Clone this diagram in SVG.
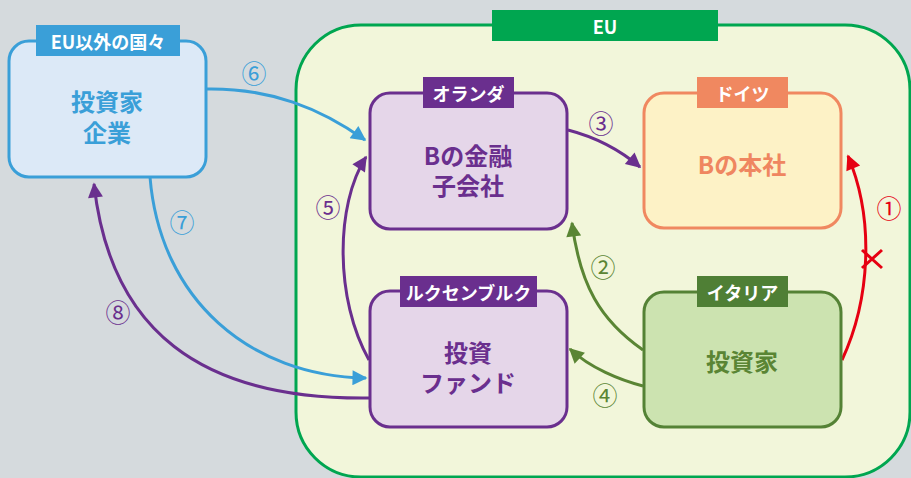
<svg xmlns="http://www.w3.org/2000/svg" width="911" height="478" viewBox="0 0 911 478">
<style>
text{font-family:"Noto Sans CJK JP","Noto Sans",sans-serif;font-weight:bold;text-anchor:middle;dominant-baseline:central}
.lbl{fill:#fff;font-size:18px}
.main{font-size:24px}
.num{font-size:25px;font-weight:normal}
.c{fill:none;stroke-width:3}
</style>
<defs>
<marker id="aB" viewBox="0 0 10 10" refX="9" refY="5" markerWidth="6" markerHeight="5" markerUnits="strokeWidth" orient="auto"><path d="M0,0L10,5L0,10z" fill="#3a9fd8"/></marker>
<marker id="aP" viewBox="0 0 10 10" refX="9" refY="5" markerWidth="6" markerHeight="5" markerUnits="strokeWidth" orient="auto"><path d="M0,0L10,5L0,10z" fill="#6a2f8e"/></marker>
<marker id="aG" viewBox="0 0 10 10" refX="9" refY="5" markerWidth="6" markerHeight="5" markerUnits="strokeWidth" orient="auto"><path d="M0,0L10,5L0,10z" fill="#5a8534"/></marker>
<marker id="aR" viewBox="0 0 10 10" refX="9" refY="5" markerWidth="6" markerHeight="5" markerUnits="strokeWidth" orient="auto"><path d="M0,0L10,5L0,10z" fill="#e60012"/></marker>
</defs>
<rect width="911" height="478" fill="#d5dadd"/>
<g id="eu">
<rect x="296" y="25" width="614" height="452" rx="65" fill="#f2f6da" stroke="#00a650" stroke-width="3"/>
<rect x="492" y="10" width="226" height="31" fill="#00a650"/>
<text x="605" y="25.5" class="lbl">EU</text>
</g>
<g id="connectors">
<path class="c" stroke="#3a9fd8" d="M207,89 C270,88 320,108 365,140" marker-end="url(#aB)"/>
<path class="c" stroke="#3a9fd8" d="M150,177 C160,300 250,376 366,378" marker-end="url(#aB)"/>
<path class="c" stroke="#6a2f8e" d="M369,398 C200,400 110,330 94,184" marker-end="url(#aP)"/>
<path class="c" stroke="#6a2f8e" d="M369,360 C335,300 335,205 366,157" marker-end="url(#aP)"/>
<path class="c" stroke="#6a2f8e" d="M568,130 C595,137 620,150 640,167" marker-end="url(#aP)"/>
<path class="c" stroke="#5a8534" d="M643,350 C600,320 580,285 572,223" marker-end="url(#aG)"/>
<path class="c" stroke="#5a8534" d="M643,386 C620,380 590,368 570,349" marker-end="url(#aG)"/>
<path class="c" stroke="#e60012" d="M842,360 C870,300 875,220 848,156" marker-end="url(#aR)"/>
<path d="M862,250L882,268M882,250L862,268" stroke="#e60012" stroke-width="3"/>
<text x="254" y="72" class="num" fill="#3a9fd8">⑥</text>
<text x="182" y="221" class="num" fill="#3a9fd8">⑦</text>
<text x="118" y="311" class="num" fill="#6a2f8e">⑧</text>
<text x="328" y="206" class="num" fill="#6a2f8e">⑤</text>
<text x="601" y="122" class="num" fill="#6a2f8e">③</text>
<text x="603" y="266" class="num" fill="#5a8534">②</text>
<text x="605" y="394" class="num" fill="#5a8534">④</text>
<text x="889" y="207" class="num" fill="#e60012">①</text>
</g>
<g id="nonEU">
<rect x="9" y="41" width="197" height="136" rx="20" fill="#dce9f7" stroke="#3a9fd8" stroke-width="3"/>
<rect x="36" y="25" width="144" height="31" fill="#3a9fd8"/>
<text x="108" y="40.5" class="lbl">EU以外の国々</text>
<text class="main" fill="#3a9fd8"><tspan x="107" y="100">投資家</tspan><tspan x="107" y="131">企業</tspan></text>
</g>
<g id="netherlands">
<rect x="370" y="93" width="197" height="136" rx="20" fill="#e5d6e9" stroke="#6a2f8e" stroke-width="3"/>
<rect x="423" y="77" width="91" height="31" fill="#6a2f8e"/>
<text x="468.5" y="92.5" class="lbl">オランダ</text>
<text class="main" fill="#6a2f8e"><tspan x="468" y="154">Bの金融</tspan><tspan x="468" y="184">子会社</tspan></text>
</g>
<g id="germany">
<rect x="644" y="93" width="197" height="135" rx="20" fill="#fdf2c6" stroke="#f08860" stroke-width="3"/>
<rect x="697" y="77" width="91" height="31" fill="#f08860"/>
<text x="742.5" y="92.5" class="lbl">ドイツ</text>
<text x="742" y="163" class="main" fill="#ef8660">Bの本社</text>
</g>
<g id="luxembourg">
<rect x="370" y="291" width="197" height="136" rx="20" fill="#e5d6e9" stroke="#6a2f8e" stroke-width="3"/>
<rect x="400" y="276" width="137" height="31" fill="#6a2f8e"/>
<text x="468.5" y="291.5" class="lbl">ルクセンブルク</text>
<text class="main" fill="#6a2f8e"><tspan x="468" y="351">投資</tspan><tspan x="468" y="381">ファンド</tspan></text>
</g>
<g id="italy">
<rect x="644" y="292" width="197" height="135" rx="20" fill="#cce3b0" stroke="#548235" stroke-width="3"/>
<rect x="697" y="276" width="91" height="31" fill="#4f7f35"/>
<text x="742.5" y="291.5" class="lbl">イタリア</text>
<text x="742" y="360" class="main" fill="#5a8534">投資家</text>
</g>
</svg>
